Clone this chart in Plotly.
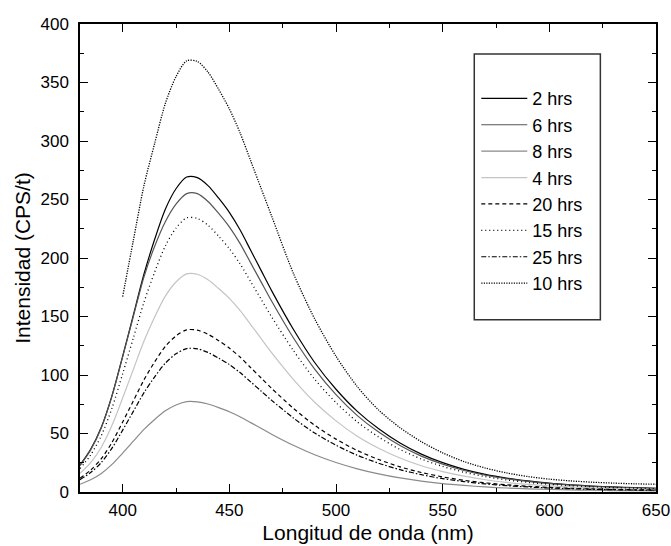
import plotly.graph_objects as go

# Wavelength grid (nm)
wl = [380, 385, 390, 395, 400, 405, 410, 415, 420, 425, 430, 435, 440, 445, 450, 455,
      460, 465, 470, 480, 490, 500, 510, 520, 530, 540, 550, 560, 570, 580, 590, 600,
      610, 620, 630, 640, 650]

i_2h = [23.0, 36.5, 55.4, 82.4, 116.1, 151.2, 186.3, 216.0, 241.7, 259.2, 269.2, 268.7,
        261.9, 251.1, 239.0, 224.1, 206.6, 189.0, 171.5, 139.1, 110.7, 87.8, 68.9, 54.0,
        41.9, 32.4, 25.1, 19.4, 15.1, 11.9, 9.5, 7.6, 6.2, 5.1, 4.3, 3.8, 3.2]
i_6h = [22.5, 36.0, 55.0, 82.0, 115.5, 150.0, 184.0, 210.0, 231.0, 246.0, 255.0, 255.0,
        248.3, 238.1, 226.6, 212.5, 195.8, 179.2, 162.6, 131.8, 105.0, 83.2, 65.3, 51.2,
        39.7, 30.7, 23.8, 18.4, 14.3, 11.3, 9.0, 7.2, 5.9, 4.9, 4.1, 3.6, 3.1]
i_8h = [6.6, 10.5, 15.9, 23.6, 33.3, 43.4, 53.5, 62.0, 69.4, 74.4, 77.3, 77.1,
        75.2, 72.1, 68.6, 64.3, 59.3, 54.3, 49.2, 39.9, 31.8, 25.2, 19.8, 15.5,
        12.0, 9.3, 7.2, 5.6, 4.3, 3.4, 2.7, 2.2, 1.8, 1.5, 1.2, 1.1, 0.9]
i_4h = [15.9, 25.2, 38.3, 57.0, 80.4, 104.7, 129.0, 149.6, 167.4, 179.5, 186.4, 186.1,
        181.4, 173.9, 165.5, 155.2, 143.1, 130.9, 118.7, 96.3, 76.7, 60.8, 47.7, 37.4,
        29.0, 22.4, 17.4, 13.5, 10.5, 8.2, 6.5, 5.2, 4.3, 3.6, 3.0, 2.6, 2.2]
i_20h = [11.8, 18.8, 28.5, 42.4, 59.8, 77.8, 95.9, 111.2, 124.4, 133.4, 138.6, 138.3,
         134.8, 129.3, 123.0, 115.4, 106.3, 97.3, 88.3, 71.6, 57.0, 45.2, 35.4, 27.8,
         21.5, 16.7, 12.9, 10.0, 7.8, 6.1, 4.9, 3.9, 3.2, 2.6, 2.2, 1.9, 1.7]
i_15h = [20.0, 31.7, 48.2, 71.7, 101.1, 131.6, 162.2, 188.0, 210.3, 225.6, 234.3, 233.8,
         228.0, 218.6, 208.0, 195.1, 179.8, 164.5, 149.2, 121.0, 96.4, 76.4, 59.9, 47.0,
         36.4, 28.2, 21.9, 16.9, 13.2, 10.3, 8.2, 6.6, 5.4, 4.5, 3.8, 3.3, 2.8]
i_25h = [10.5, 16.6, 25.2, 37.5, 52.9, 68.9, 84.9, 98.4, 110.1, 118.1, 122.6, 122.4,
         119.3, 114.4, 108.9, 102.1, 94.1, 86.1, 78.1, 63.3, 50.4, 40.0, 31.4, 24.6,
         19.1, 14.8, 11.4, 8.9, 6.9, 5.4, 4.3, 3.4, 2.8, 2.3, 2.0, 1.7, 1.5]
# 10 hrs series starts at 400 nm
wl_10h = [400, 405, 410, 415, 420, 425, 430, 435, 440, 445, 450, 455, 460, 465, 470,
          480, 490, 500, 510, 520, 530, 540, 550, 560, 570, 580, 590, 600, 610, 620,
          630, 640, 650]
i_10h = [167.0, 215.0, 262.0, 298.0, 332.0, 355.0, 368.5, 368.0, 358.9, 344.1, 327.5,
         307.1, 283.1, 259.0, 235.0, 187.0, 148.0, 116.0, 90.0, 70.0, 55.0, 43.0, 33.5,
         26.0, 20.5, 16.3, 13.2, 11.0, 9.5, 8.4, 7.6, 7.0, 6.6]

names = ["2 hrs", "6 hrs", "8 hrs", "4 hrs", "20 hrs", "15 hrs", "25 hrs", "10 hrs"]

series = [
    (wl, i_2h, "#000000", "solid", 1.2),
    (wl, i_6h, "#555555", "solid", 1.2),
    (wl, i_8h, "#8a8a8a", "solid", 1.2),
    (wl, i_4h, "#c4c4c4", "solid", 1.2),
    (wl, i_20h, "#000000", "4px,3px", 1.2),
    (wl, i_15h, "#000000", "1px,3px", 1.3),
    (wl, i_25h, "#000000", "5px,2px,1.5px,2px", 1.2),
    (wl_10h, i_10h, "#000000", "1.2px,1.3px", 1.3),
]

fig = go.Figure()
for name, (x, y, col, dash, w) in zip(names, series):
    fig.add_trace(go.Scatter(
        x=x, y=y, mode="lines", name=name, legendgroup=name,
        line=dict(color=col, dash=dash, width=w, shape="spline", smoothing=0.8),
    ))

font_family = "Liberation Sans, Arial, sans-serif"

axis_common = dict(
    showline=True, linecolor="black", linewidth=1.5, mirror="ticks",
    ticks="inside", ticklen=8, tickwidth=1.3, tickcolor="black",
    showgrid=False, zeroline=False, automargin=False,
    tickfont=dict(family=font_family, size=17, color="black"),
)

fig.update_xaxes(
    range=[380, 650], tick0=400, dtick=50,
    minor=dict(ticks="inside", ticklen=4, tickwidth=1.3, tickcolor="black", dtick=25, tick0=400),
    title=dict(text="Longitud de onda (nm)", font=dict(family=font_family, size=21, color="black"), standoff=6),
    ticklabelstandoff=2,
    **axis_common,
)
fig.update_yaxes(
    range=[0, 400], tick0=0, dtick=50,
    minor=dict(ticks="inside", ticklen=4, tickwidth=1.3, tickcolor="black", dtick=25, tick0=0),
    title=dict(text="Intensidad (CPS/t)", font=dict(family=font_family, size=21, color="black"), standoff=4),
    ticklabelstandoff=6,
    **axis_common,
)

# legend frame
fig.add_shape(type="rect", xref="paper", yref="paper",
              x0=0.6845, x1=0.9034, y0=0.368, y1=0.936,
              line=dict(color="#333333", width=1.5), fillcolor="rgba(0,0,0,0)", layer="above")

fig.update_layout(
    width=671, height=546,
    margin=dict(l=80, r=15, t=24, b=54, autoexpand=False),
    paper_bgcolor="white", plot_bgcolor="white",
    showlegend=True,
    legend=dict(x=0.688, y=0.88, xanchor="left", yanchor="top",
                bgcolor="rgba(0,0,0,0)", borderwidth=0,
                font=dict(family=font_family, size=18, color="black"),
                itemwidth=46, tracegroupgap=0),
)

# remove the default page margin so the figure fills the window exactly
fig.write_html("out.html", config={"displayModeBar": False},
               post_script="document.body.style.margin='0';")
